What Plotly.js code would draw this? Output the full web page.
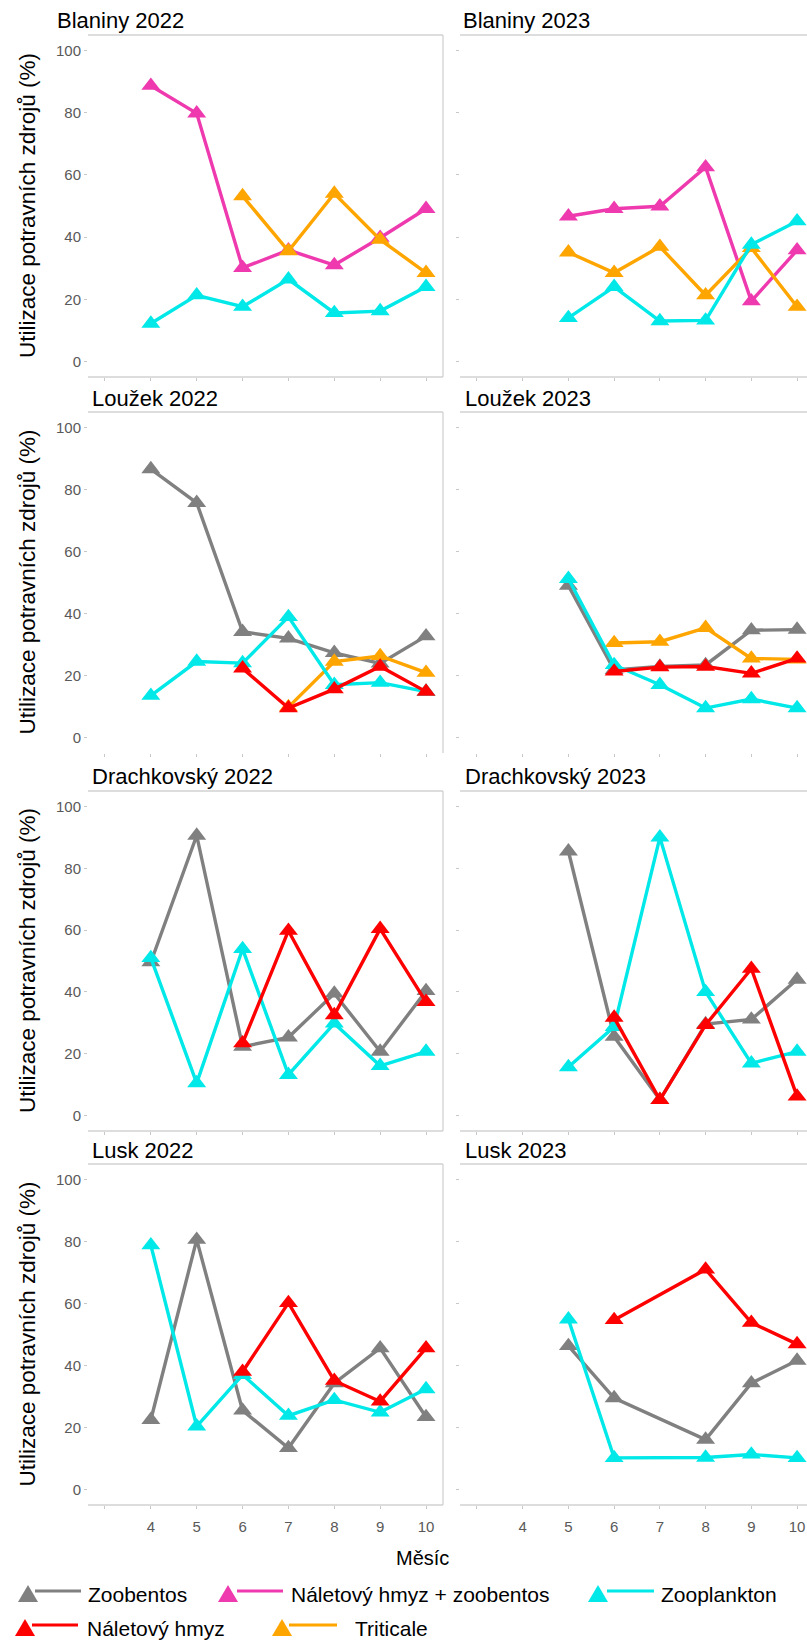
<!DOCTYPE html>
<html><head><meta charset="utf-8">
<script src="https://cdn.plot.ly/plotly-3.0.1.min.js"></script>
<style>html,body{margin:0;padding:0;overflow:hidden;background:#fff}</style>
</head><body><div id="chart" style="width:830px;height:1640px"></div>
<script>
// ---- data ----
const months = [4, 5, 6, 7, 8, 9, 10];
const monthTickVals = [3, 4, 5, 6, 7, 8, 9, 10];
const monthTickText = ['', '4', '5', '6', '7', '8', '9', '10'];
const yTickVals = [0, 20, 40, 60, 80, 100];

const seriesNames = ['Zoobentos', 'Náletový hmyz + zoobentos', 'Zooplankton', 'Náletový hmyz', 'Triticale'];
const seriesColors = ['#808080', '#EE3AAE', '#00E8E8', '#FF0000', '#FFA500'];

const panelTitles = ['Blaniny 2022', 'Blaniny 2023', 'Loužek 2022', 'Loužek 2023',
                     'Drachkovský 2022', 'Drachkovský 2023', 'Lusk 2022', 'Lusk 2023'];

// Blaniny
const blaniny2022_naletZoob = [88.7, 79.8, 30.1, 35.8, 31.0, 39.8, 49.1];
const blaniny2022_zooplankton = [12.2, 21.3, 17.6, 26.4, 15.6, 16.2, 24.0];
const blaniny2022_triticale = [null, null, 53.2, 35.5, 54.0, 39.2, 28.5];
const blaniny2023_naletZoob = [null, 46.7, 49.1, 49.9, 62.5, 19.4, 35.8];
const blaniny2023_zooplankton = [null, 14.0, 24.0, 13.0, 13.2, 37.6, 45.1];
const blaniny2023_triticale = [null, 35.1, 28.5, 36.9, 21.3, 36.5, 17.6];
// Loužek
const louzek2022_zoobentos = [86.6, 75.7, 34.1, 32.0, 27.3, 23.9, 32.7];
const louzek2022_zooplankton = [13.5, 24.5, 24.0, 38.9, 17.0, 17.7, 14.8];
const louzek2022_nalet = [null, null, 22.3, 9.5, 15.6, 22.9, 14.8];
const louzek2022_triticale = [null, null, null, 9.8, 24.5, 26.3, 20.9];
const louzek2023_zoobentos = [null, 49.0, 21.8, 22.9, 23.4, 34.6, 34.8];
const louzek2023_zooplankton = [null, 51.2, 23.4, 17.0, 9.5, 12.4, 9.5];
const louzek2023_nalet = [null, null, 21.3, 22.7, 22.9, 20.7, 25.5];
const louzek2023_triticale = [null, null, 30.5, 30.9, 35.4, 25.5, 25.2];
// Drachkovský
const drach2022_zoobentos = [49.6, 90.6, 22.3, 25.3, 39.5, 20.7, 40.3];
const drach2022_zooplankton = [51.0, 10.5, 53.9, 13.2, 29.8, 16.1, 20.7];
const drach2022_nalet = [null, null, 23.4, 59.8, 32.5, 60.4, 36.8];
const drach2023_zoobentos = [null, 85.5, 25.5, 5.1, 29.6, 31.1, 44.0];
const drach2023_zooplankton = [null, 15.7, 28.7, 90.0, 40.0, 16.9, 20.7];
const drach2023_nalet = [null, null, 31.7, 5.1, 29.3, 47.5, 6.2];
// Lusk
const lusk2022_zoobentos = [22.5, 80.6, 25.5, 13.4, 34.3, 45.6, 23.4];
const lusk2022_zooplankton = [78.8, 20.4, 37.0, 23.8, 28.9, 24.9, 32.4];
const lusk2022_nalet = [null, null, 38.0, 60.2, 35.1, 28.4, 45.6];
const lusk2023_zoobentos = [null, 46.3, 29.5, null, 16.1, 34.3, 41.6];
const lusk2023_zooplankton = [null, 54.9, 10.2, null, 10.3, 11.3, 10.2];
const lusk2023_nalet = [null, null, 54.7, null, 71.0, 53.8, 46.9];

// series index: 0 zoobentos, 1 nalet+zoob, 2 zooplankton, 3 nalet, 4 triticale
const panelSeries = [
  [[1, blaniny2022_naletZoob], [4, blaniny2022_triticale], [2, blaniny2022_zooplankton]],
  [[1, blaniny2023_naletZoob], [4, blaniny2023_triticale], [2, blaniny2023_zooplankton]],
  [[0, louzek2022_zoobentos], [4, louzek2022_triticale], [2, louzek2022_zooplankton], [3, louzek2022_nalet]],
  [[0, louzek2023_zoobentos], [4, louzek2023_triticale], [2, louzek2023_zooplankton], [3, louzek2023_nalet]],
  [[0, drach2022_zoobentos], [2, drach2022_zooplankton], [3, drach2022_nalet]],
  [[0, drach2023_zoobentos], [2, drach2023_zooplankton], [3, drach2023_nalet]],
  [[0, lusk2022_zoobentos], [2, lusk2022_zooplankton], [3, lusk2022_nalet]],
  [[0, lusk2023_zoobentos], [2, lusk2023_zooplankton], [3, lusk2023_nalet]]
];

// ---- layout ----
const W = 830, H = 1640;
const X = px => px / W;
const Y = py => 1 - py / H;
const rowTB = [[35, 377], [412, 753], [791, 1131], [1164, 1505]];
const colLR = [[88, 443], [460, 814]];
const titlePos = [[55, 20], [461, 20], [90, 398], [463, 398], [90, 776], [463, 776], [90, 1150], [463, 1150]];
const FONT = 'Arial, "Liberation Sans", sans-serif';

const traces = [];
const layout = {
  width: W, height: H,
  margin: {l: 0, r: 0, t: 0, b: 0},
  paper_bgcolor: '#fff', plot_bgcolor: '#fff',
  showlegend: false,
  font: {family: FONT},
  shapes: [], annotations: []
};

for (let i = 0; i < 8; i++) {
  const row = Math.floor(i / 2), col = i % 2;
  const n = i === 0 ? '' : String(i + 1);
  const [t, b] = rowTB[row];
  const [l, r] = colLR[col];
  layout['xaxis' + n] = {
    domain: [X(l), X(r)], anchor: 'y' + n,
    range: [2.63, 10.37], tickvals: monthTickVals, ticktext: monthTickText,
    ticks: 'outside', ticklen: 3, tickcolor: '#c8c8c8',
    showticklabels: row === 3, ticklabelstandoff: 5,
    tickfont: {size: 15, color: '#595959', family: FONT},
    showgrid: false, zeroline: false, showline: false, fixedrange: true
  };
  layout['yaxis' + n] = {
    domain: [Y(b), Y(t)], anchor: 'x' + n,
    range: [-5, 105], tickvals: yTickVals,
    ticks: 'outside', ticklen: 3, tickcolor: '#c8c8c8',
    showticklabels: col === 0,
    tickfont: {size: 15, color: '#595959', family: FONT},
    showgrid: false, zeroline: false, showline: false, fixedrange: true
  };
  const xd = 'x' + n + ' domain', yd = 'y' + n + ' domain';
  const bc = {color: '#d2d2d2', width: 1.3};
  layout.shapes.push({type: 'line', xref: xd, yref: yd, x0: 0, x1: 1, y0: 1, y1: 1, line: bc});
  if (row !== 1) layout.shapes.push({type: 'line', xref: xd, yref: yd, x0: 0, x1: 1, y0: 0, y1: 0, line: bc});
  if (col === 0) layout.shapes.push({type: 'line', xref: xd, yref: yd, x0: 1, x1: 1, y0: 0, y1: 1, line: bc});

  layout.annotations.push({
    text: panelTitles[i], xref: 'paper', yref: 'paper',
    x: X(titlePos[i][0]), y: Y(titlePos[i][1]), xanchor: 'left', yanchor: 'middle',
    showarrow: false, font: {size: 22, color: '#000', family: FONT}
  });
  if (col === 0) {
    layout.annotations.push({
      text: 'Utilizace potravních zdrojů (%)', xref: 'paper', yref: 'paper',
      x: X(27), y: Y((t + b) / 2), xanchor: 'center', yanchor: 'middle', textangle: -90,
      showarrow: false, font: {size: 22.5, color: '#000', family: FONT}
    });
  }
  for (const [s, vals] of panelSeries[i]) {
    traces.push({
      type: 'scatter', mode: 'lines+markers', x: months, y: vals,
      xaxis: 'x' + n, yaxis: 'y' + n, name: seriesNames[s],
      connectgaps: true, cliponaxis: false, hoverinfo: 'skip', showlegend: false,
      line: {color: seriesColors[s], width: 3.4},
      marker: {symbol: 'triangle-up', size: 16.5, color: seriesColors[s]}
    });
  }
}

layout.annotations.push({
  text: 'Měsíc', xref: 'paper', yref: 'paper', x: X(423), y: Y(1558),
  xanchor: 'center', yanchor: 'middle', showarrow: false,
  font: {size: 20, color: '#000', family: FONT}
});

// custom legend: [series, triangle x, line start, line end, text x, y]
const legendItems = [
  [0, 28, 35, 81, 86, 1594],
  [1, 228, 237, 283, 289, 1594],
  [2, 598, 607, 654, 659, 1594],
  [3, 25, 32, 78, 85, 1628],
  [4, 282, 289, 337, 353, 1628]
];
for (const [s, tx, l0, l1, txx, cy] of legendItems) {
  const c = seriesColors[s];
  layout.shapes.push({
    type: 'path', xref: 'paper', yref: 'paper', fillcolor: c, line: {width: 0},
    path: `M ${X(tx - 10)} ${Y(cy + 8)} L ${X(tx + 10)} ${Y(cy + 8)} L ${X(tx)} ${Y(cy - 9)} Z`
  });
  layout.shapes.push({
    type: 'line', xref: 'paper', yref: 'paper', x0: X(l0), x1: X(l1), y0: Y(cy - 3), y1: Y(cy - 3),
    line: {color: c, width: 3}
  });
  layout.annotations.push({
    text: seriesNames[s], xref: 'paper', yref: 'paper', x: X(txx), y: Y(cy),
    xanchor: 'left', yanchor: 'middle', showarrow: false,
    font: {size: 21, color: '#000', family: FONT}
  });
}

Plotly.newPlot('chart', traces, layout, {staticPlot: true, displayModeBar: false});
</script></body></html>
